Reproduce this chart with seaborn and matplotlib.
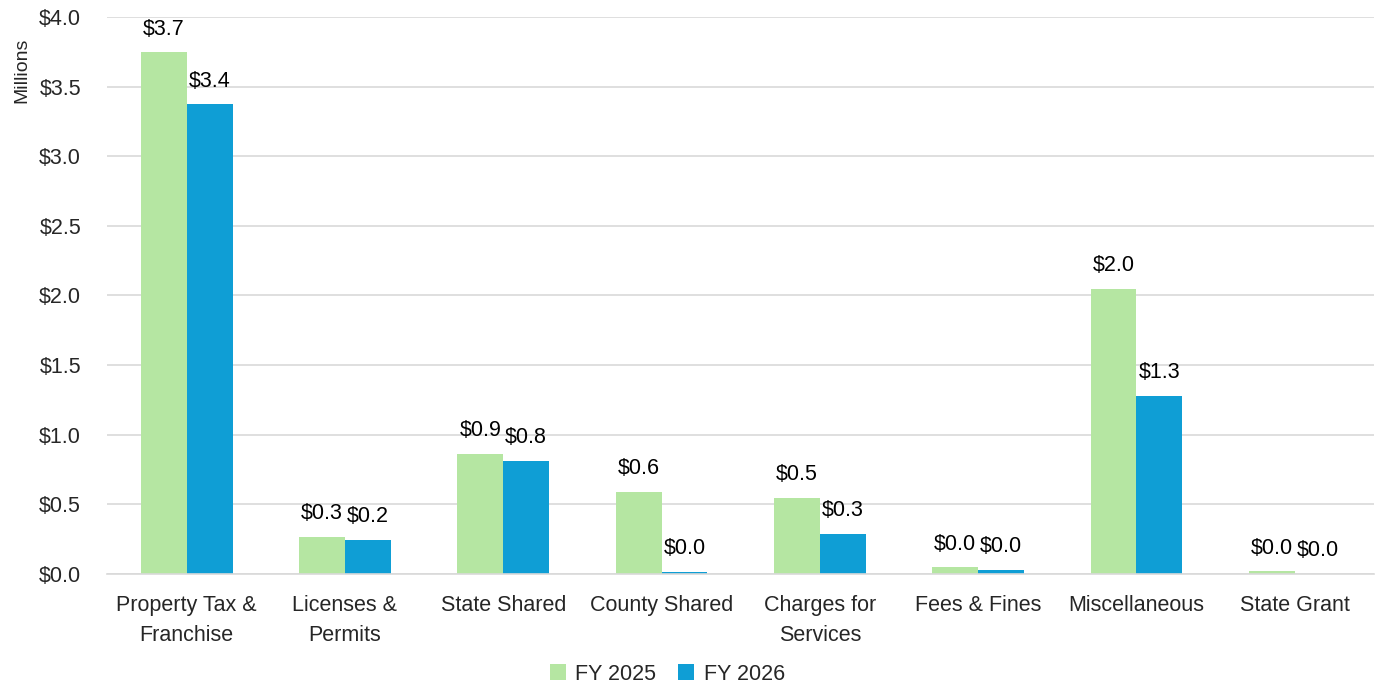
import matplotlib
matplotlib.use("Agg")
import matplotlib.pyplot as plt
import seaborn as sns
import pandas as pd

# revenue by category, in millions
categories = ["Property Tax &\nFranchise", "Licenses &\nPermits", "State Shared", "County Shared",
              "Charges for\nServices", "Fees & Fines", "Miscellaneous", "State Grant"]
fy2025 = [3.749, 0.266, 0.862, 0.589, 0.546, 0.049, 2.049, 0.020]
fy2026 = [3.375, 0.244, 0.811, 0.014, 0.287, 0.029, 1.278, 0.000]
years = ["FY 2025", "FY 2026"]
colors = ["#B5E6A2", "#0F9ED5"]

df = pd.DataFrame({
    "category": categories * 2,
    "value": fy2025 + fy2026,
    "year": [years[0]] * len(categories) + [years[1]] * len(categories),
})

sns.set_style("white")
plt.rcParams["font.family"] = ["Liberation Sans", "DejaVu Sans"]

fig, ax = plt.subplots(figsize=(13.78, 6.84), dpi=100)
sns.barplot(data=df, x="category", y="value", hue="year", palette=colors,
            width=0.58, saturation=1, linewidth=0, edgecolor="none", ax=ax, legend=True)

for cont in ax.containers:
    ax.bar_label(cont, fmt="${:.1f}", padding=9, fontsize=15.5, color="#000000")

ax.set_ylim(0, 4.0)
ax.set_yticks([i * 0.5 for i in range(9)])
ax.set_yticklabels([f"${i * 0.5:.1f}" for i in range(9)], fontsize=15.5)
ax.tick_params(axis="x", labelsize=15.5, length=0, pad=15)
ax.tick_params(axis="y", length=0, pad=19)
for t in ax.get_xticklabels():
    t.set_linespacing(1.55)
ax.set_xlabel("")
ax.set_ylabel("Millions", fontsize=14)
ax.yaxis.set_label_coords(-0.061, 0.905)
ax.grid(axis="y", color="#D9D9D9", linewidth=1.2)
ax.set_axisbelow(True)
for s in ["top", "right", "left"]:
    ax.spines[s].set_visible(False)
ax.spines["bottom"].set_color("#D9D9D9")
ax.spines["bottom"].set_linewidth(1.2)
ax.set_xlim(-0.5, len(categories) - 0.5)

handles, labels = ax.get_legend_handles_labels()
ax.legend(handles, labels, loc="center", bbox_to_anchor=(0.442, -0.18), ncol=2,
          frameon=False, fontsize=15.5, handlelength=0.75, handleheight=0.75,
          handletextpad=0.45, columnspacing=1.0)

fig.subplots_adjust(left=0.078, right=0.997, top=0.975, bottom=0.161)
fig.savefig("out.png", dpi=100)
